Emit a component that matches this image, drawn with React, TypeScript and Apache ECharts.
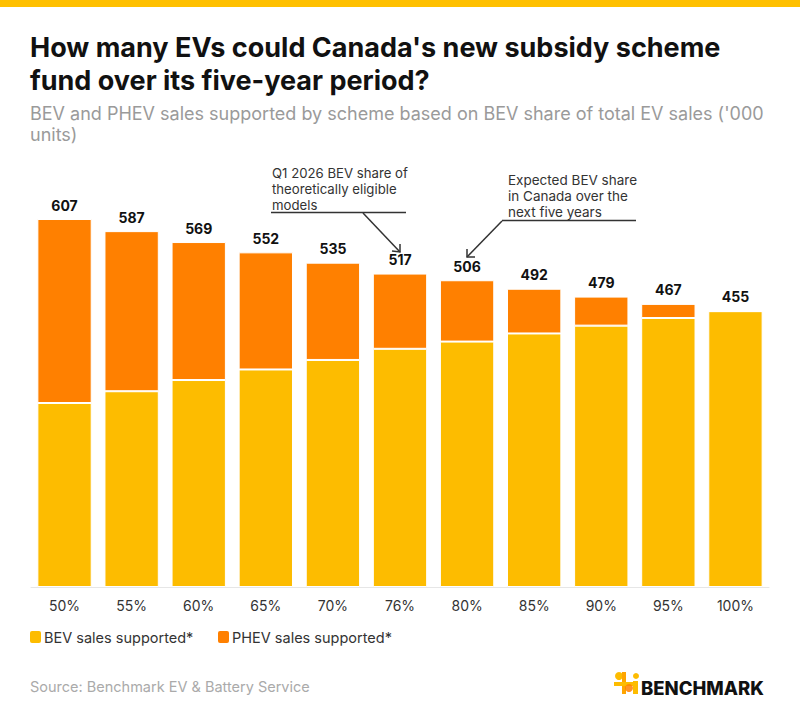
import React, { useEffect, useRef } from "react";
import * as echarts from "echarts";

// BEV share of total EV sales (x-axis)
const categories = ["50%", "55%", "60%", "65%", "70%", "76%", "80%", "85%", "90%", "95%", "100%"];
// Sales supported, '000 units
const bevSales = [303.5, 322.9, 341.4, 358.8, 374.5, 392.9, 404.8, 418.2, 431.1, 443.7, 455];
const phevSales = [303.5, 264.1, 227.6, 193.2, 160.5, 124.1, 101.2, 73.8, 47.9, 23.3, 0];
const totals = [607, 587, 569, 552, 535, 517, 506, 492, 479, 467, 455];

const seriesNames = ["BEV sales supported*", "PHEV sales supported*"];
const titleLines = [
  "How many EVs could Canada's new subsidy scheme",
  "fund over its five-year period?",
];
const subtitleLines = [
  "BEV and PHEV sales supported by scheme based on BEV share of total EV sales ('000",
  "units)",
];
const noteQ1 = "Q1 2026 BEV share of\ntheoretically eligible\nmodels";
const noteExpected = "Expected BEV share\nin Canada over the\nnext five years";
const sourceText = "Source: Benchmark EV & Battery Service";

const YELLOW = "#FDBC00";
const ORANGE = "#FF8000";
const FONT = "Inter, 'Open Sans', sans-serif";

export default function App() {
  const ref = useRef<HTMLDivElement>(null);

  useEffect(() => {
    if (!ref.current) return;
    const chart = echarts.init(ref.current, null, { renderer: "svg" });

    const text = (x: number, y: number, t: string, s: any) => ({
      type: "text",
      x,
      y,
      style: { text: t, fontFamily: FONT, verticalAlign: "middle", ...s },
    });
    const swatch = (x: number, color: string) => ({
      type: "rect",
      shape: { x, y: 631, width: 11, height: 12, r: 2 },
      style: { fill: color },
    });

    chart.setOption({
      animation: false,
      backgroundColor: "#fff",
      grid: { left: 31, right: 31, top: 199, bottom: 129 },
      xAxis: {
        type: "category",
        data: categories,
        axisLine: { lineStyle: { color: "#e6e6e6" } },
        axisTick: { alignWithLabel: true, length: 4, lineStyle: { color: "#e6e6e6" } },
        axisLabel: { fontFamily: FONT, fontSize: 14, color: "#333", margin: 11 },
      },
      yAxis: { type: "value", min: 0, max: 640, show: false, splitLine: { show: false } },
      series: [
        {
          name: seriesNames[0],
          type: "bar",
          stack: "ev",
          barCategoryGap: "19%",
          data: bevSales,
          itemStyle: { color: YELLOW, borderColor: "#fff", borderWidth: 1 },
        },
        {
          name: seriesNames[1],
          type: "bar",
          stack: "ev",
          data: phevSales,
          itemStyle: { color: ORANGE, borderColor: "#fff", borderWidth: 1 },
          label: {
            show: true,
            position: "top",
            distance: 7,
            formatter: (p: any) => String(totals[p.dataIndex]),
            fontFamily: FONT,
            fontSize: 14,
            fontWeight: 700,
            color: "#111",
          },
        },
      ],
      graphic: [
        { type: "rect", shape: { x: 0, y: 0, width: 800, height: 7 }, style: { fill: "#FFC000" } },
        text(30, 47, titleLines[0], { fontSize: 27, fontWeight: 700, fill: "#111" }),
        text(30, 80, titleLines[1], { fontSize: 27, fontWeight: 700, fill: "#111" }),
        text(30, 113, subtitleLines[0], { fontSize: 18, fill: "#9a9a9a" }),
        text(30, 134, subtitleLines[1], { fontSize: 18, fill: "#9a9a9a" }),
        // Annotation: Q1 2026 share
        text(272, 189, noteQ1, { fontSize: 13.2, fill: "#333", lineHeight: 16 }),
        { type: "line", shape: { x1: 271, y1: 212.5, x2: 406, y2: 212.5 }, style: { stroke: "#333", lineWidth: 1.5 } },
        { type: "line", shape: { x1: 363, y1: 213, x2: 400, y2: 252 }, style: { stroke: "#333", lineWidth: 1.5 } },
        { type: "polyline", shape: { points: [[392, 251], [400, 252], [400, 244]] }, style: { stroke: "#333", lineWidth: 1.5, fill: "none" } },
        // Annotation: expected share
        text(508, 196, noteExpected, { fontSize: 13.5, fill: "#333", lineHeight: 16 }),
        { type: "line", shape: { x1: 502, y1: 220.5, x2: 636, y2: 220.5 }, style: { stroke: "#333", lineWidth: 1.5 } },
        { type: "line", shape: { x1: 502, y1: 221, x2: 467, y2: 257 }, style: { stroke: "#333", lineWidth: 1.5 } },
        { type: "polyline", shape: { points: [[467, 249], [467, 257], [475, 257]] }, style: { stroke: "#333", lineWidth: 1.5, fill: "none" } },
        // Legend
        swatch(30, YELLOW),
        text(44, 637, seriesNames[0], { fontSize: 14.5, fill: "#333" }),
        swatch(218, ORANGE),
        text(232, 637, seriesNames[1], { fontSize: 14.5, fill: "#333" }),
        // Footer
        text(30, 686, sourceText, { fontSize: 14.5, fill: "#aaa" }),
        { type: "circle", shape: { cx: 619, cy: 676, r: 4 }, style: { fill: YELLOW } },
        { type: "rect", shape: { x: 622, y: 672, width: 4, height: 22 }, style: { fill: "#FFA500" } },
        { type: "rect", shape: { x: 614, y: 682, width: 20, height: 4 }, style: { fill: YELLOW } },
        { type: "circle", shape: { cx: 629, cy: 688, r: 4 }, style: { fill: ORANGE, opacity: 0.85 } },
        { type: "circle", shape: { cx: 636, cy: 676, r: 3 }, style: { fill: YELLOW } },
        { type: "rect", shape: { x: 633, y: 681, width: 5, height: 13 }, style: { fill: YELLOW } },
        text(641, 688, "BENCHMARK", { fontSize: 18.5, fontWeight: 800, fill: "#111" }),
      ],
    });

    return () => chart.dispose();
  }, []);

  return (
    <div
      ref={ref}
      style={{ position: "fixed", left: 0, top: 0, width: 800, height: 716 }}
    />
  );
}
